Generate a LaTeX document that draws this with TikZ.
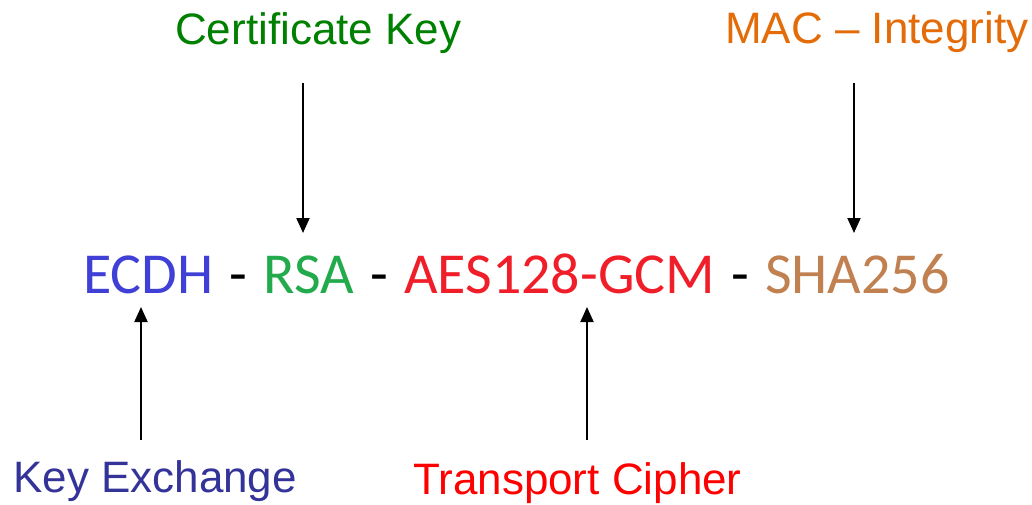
\documentclass[tikz,border=0pt]{standalone}
\usepackage{fontspec}
\setmainfont{Liberation Sans}
\newfontfamily\suitefont{Carlito}
\usetikzlibrary{arrows.meta}
\definecolor{kxblue}{RGB}{51,51,153}
\definecolor{certgreen}{RGB}{0,128,0}
\definecolor{macorange}{RGB}{227,108,9}
\definecolor{cipherred}{RGB}{255,0,0}
\definecolor{ecdhblue}{RGB}{64,64,214}
\definecolor{rsagreen}{RGB}{34,170,76}
\definecolor{aesred}{RGB}{240,30,40}
\definecolor{shabrown}{RGB}{192,128,80}
\newcommand{\sep}{\hspace{3pt} - \hspace{3pt}}
\tikzset{
  lbl/.style={inner sep=0pt, anchor=base west, font=\fontsize{44}{50}\selectfont},
  suite/.style={inner sep=0pt, anchor=base west, font=\suitefont\fontsize{58}{64}\selectfont},
  arr/.style={line width=2pt, -{Triangle[length=15pt,width=13pt]}}
}
\begin{document}
\begin{tikzpicture}[x=1pt,y=1pt]
\useasboundingbox (0,0) rectangle (1032,504);
% cipher suite name
\node[suite] (cs) at (83,211) {\textcolor{ecdhblue}{ECDH}\sep\textcolor{rsagreen}{RSA}\sep\textcolor{aesred}{AES128-GCM}\sep\textcolor{shabrown}{SHA256}};
% component labels
\node[lbl, text=certgreen] (cert) at (175,459) {Certificate Key};
\node[lbl, text=macorange] (mac) at (725,460) {MAC – Integrity};
\node[lbl, text=kxblue] (kx) at (13,12) {Key Exchange};
\node[lbl, text=cipherred] (tc) at (413,10) {Transport Cipher};
% arrow tips
\coordinate (tcert) at (303,271);
\coordinate (tmac) at (854,271);
\coordinate (tkx) at (141,197);
\coordinate (ttc) at (587,197);
\coordinate (scert) at (303,421);
\coordinate (smac) at (854,421);
\coordinate (skx) at (141,64);
\coordinate (stc) at (587,64);
\draw[arr] (scert) -- (tcert);
\draw[arr] (smac) -- (tmac);
\draw[arr] (skx) -- (tkx);
\draw[arr] (stc) -- (ttc);
\end{tikzpicture}
\end{document}
